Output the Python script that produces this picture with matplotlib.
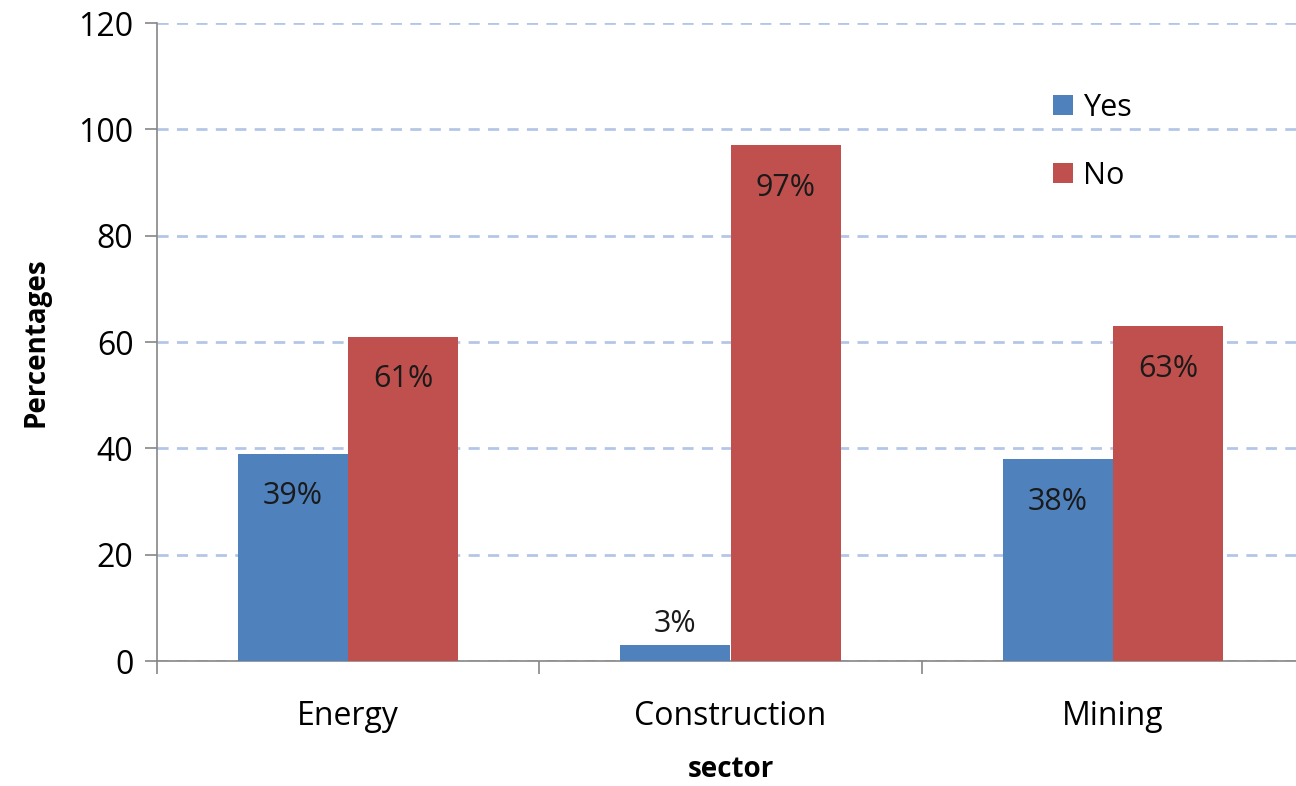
import matplotlib.pyplot as plt
import numpy as np

plt.rcParams['font.family'] = ['Open Sans', 'DejaVu Sans']

# share of respondents per sector
sectors = ['Energy', 'Construction', 'Mining']
yes_pct = [39, 3, 38]
no_pct = [61, 97, 63]

blue = '#4F81BD'
red = '#C0504D'
axis_grey = '#868686'

fig = plt.figure(figsize=(12.96, 7.86), dpi=100)
ax = fig.add_axes([157 / 1296, 1 - 661 / 786, 1147 / 1296, 638 / 786])

x = np.arange(len(sectors))
w = 0.288
b_yes = ax.bar(x - w / 2, yes_pct, w, color=blue, label='Yes', zorder=3)
b_no = ax.bar(x + w / 2, no_pct, w, color=red, label='No', zorder=3)

# labels sit inside the bar top, or above it when the bar is too short
for bars in (b_yes, b_no):
    for rect in bars:
        h = rect.get_height()
        cx = rect.get_x() + rect.get_width() / 2
        if h > 10:
            ax.text(cx, h - 8, f'{h:.0f}%', ha='center', va='center',
                    fontsize=22, color='#1a1a1a', zorder=4)
        else:
            ax.text(cx, h + 4, f'{h:.0f}%', ha='center', va='center',
                    fontsize=22, color='#1a1a1a', zorder=4)

ax.set_xlim(-0.5, 2.5)
ax.set_ylim(0, 120)
ax.set_yticks(range(0, 121, 20))
ax.yaxis.grid(True, linestyle=(0, (4, 3)), color='#B4C6E7', linewidth=2)
ax.set_axisbelow(True)

# category ticks sit between groups
ax.set_xticks(x)
ax.set_xticklabels(sectors)
ax.set_xticks(np.arange(-0.5, 3.0, 1.0), minor=True)
ax.tick_params(axis='x', which='major', length=0, pad=28, labelsize=23)
ax.tick_params(axis='x', which='minor', length=9, color=axis_grey, width=1.2)
ax.tick_params(axis='y', length=9, color=axis_grey, width=1.2, labelsize=23, pad=8)

for side in ('top', 'right'):
    ax.spines[side].set_visible(False)
for side in ('left', 'bottom'):
    ax.spines[side].set_color(axis_grey)
    ax.spines[side].set_linewidth(1.2)

ax.set_ylabel('Percentages', fontsize=20, fontweight='bold', labelpad=20)
ax.set_xlabel('sector', fontsize=20, fontweight='bold', labelpad=16)

ax.legend(loc='upper left', bbox_to_anchor=(0.757, 0.934), frameon=False,
          fontsize=22, handlelength=0.65, handleheight=0.65, labelspacing=1.25,
          handletextpad=0.35)

fig.savefig('out.png', dpi=100)
